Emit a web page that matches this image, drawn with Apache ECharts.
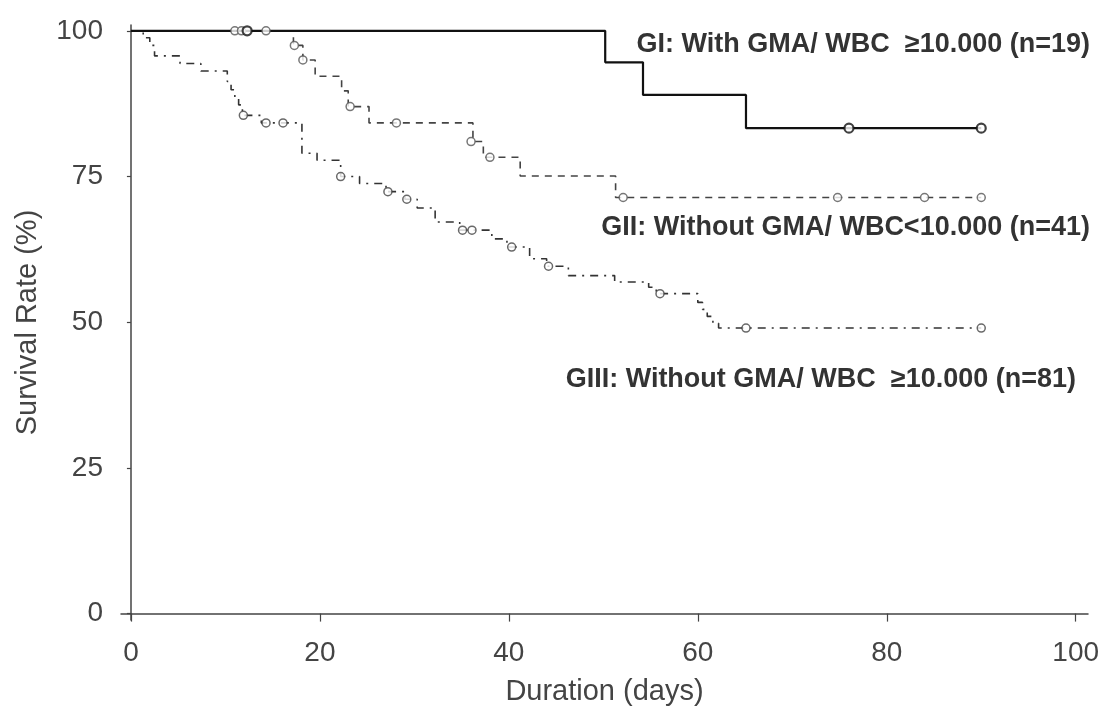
<!DOCTYPE html>
<html>
<head>
<meta charset="utf-8">
<script src="https://cdn.jsdelivr.net/npm/echarts@6/dist/echarts.min.js"></script>
<style>
html,body{margin:0;padding:0;background:#fff;}
#chart{width:1106px;height:714px;}
</style>
</head>
<body>
<div id="chart"></div>
<script>
// ---- Data ----
const xTicks = [0, 20, 40, 60, 80, 100];
const yTicks = [0, 25, 50, 75, 100];

const gITimes = [0, 50.2, 54.2, 65.1, 90.0];
const gISurv  = [100, 94.6, 89.0, 83.3, 83.3];
const gICensorTimes = [12.3, 76.0, 90.0];
const gICensorSurv  = [100, 83.3, 83.3];

const gIITimes = [0, 17.2, 18.2, 19.5, 22.3, 23.0, 25.2, 36.2, 37.3, 41.2, 51.3, 90.0];
const gIISurv  = [100, 97.5, 95.0, 92.2, 89.7, 87.0, 84.2, 81.0, 78.3, 75.1, 71.4, 71.4];
const gIICensorTimes = [11.0, 11.7, 14.3, 17.3, 18.2, 23.2, 28.1, 36.0, 38.0, 52.1, 74.8, 84.0, 90.0];
const gIICensorSurv  = [100, 100, 100, 97.5, 95.0, 87.0, 84.2, 81.0, 78.3, 71.4, 71.4, 71.4, 71.4];

const gIIITimes = [0, 1.3, 2.0, 2.5, 5.2, 7.4, 10.2, 10.6, 11.0, 11.4, 11.8, 13.8, 18.1, 19.7, 22.2, 24.2, 27.0, 29.0, 30.3, 32.2, 34.8, 38.2, 39.8, 42.2, 44.0, 46.3, 51.2, 54.8, 55.6, 60.0, 60.5, 61.0, 61.6, 62.2, 90.0];
const gIIISurv  = [100, 98.8, 97.5, 95.7, 94.4, 93.1, 91.3, 89.9, 88.6, 87.3, 85.5, 84.2, 79.0, 77.8, 75.0, 73.8, 72.4, 71.1, 69.6, 67.2, 65.8, 64.3, 62.9, 60.9, 59.6, 58.0, 56.9, 56.0, 54.9, 53.4, 52.2, 51.0, 49.8, 49.0, 49.0];
const gIIICensorTimes = [11.9, 14.3, 16.1, 22.2, 27.2, 29.2, 35.1, 36.1, 40.3, 44.2, 56.0, 65.1, 90.0];
const gIIICensorSurv  = [85.5, 84.2, 84.2, 75.0, 72.4, 71.1, 65.8, 65.8, 62.9, 59.6, 54.9, 49.0, 49.0];

const labelGI   = 'GI: With GMA/ WBC  \u226510.000 (n=19)';
const labelGII  = 'GII: Without GMA/ WBC<10.000 (n=41)';
const labelGIII = 'GIII: Without GMA/ WBC  \u226510.000 (n=81)';
const xName = 'Duration (days)';
const yName = 'Survival Rate (%)';

function zip(a, b) { return a.map((v, i) => [v, b[i]]); }

const chart = echarts.init(document.getElementById('chart'), null, {renderer: 'canvas'});
const axisColor = '#444';
const txtFont = 'Liberation Sans, Arial, sans-serif';

chart.setOption({
  backgroundColor: '#fff',
  animation: false,
  grid: {left: 121, right: 18, top: 25, bottom: 94, containLabel: false, outerBoundsMode: 'none'},
  xAxis: {
    type: 'value', min: -1.05, max: 101.3,
    name: xName, nameLocation: 'middle', nameGap: 57, nameMoveOverlap: false,
    nameTextStyle: {fontFamily: txtFont, fontSize: 29, color: '#444'},
    axisLine: {show: true, lineStyle: {color: axisColor, width: 1.5}},
    axisTick: {show: true, customValues: xTicks, length: 8, inside: false, lineStyle: {color: axisColor, width: 1.2}},
    axisLabel: {customValues: xTicks, margin: 19, fontFamily: txtFont, fontSize: 28, color: '#444'},
    splitLine: {show: false}
  },
  yAxis: {
    type: 'value', min: -1.1, max: 101,
    name: yName, nameLocation: 'middle', nameGap: 79, nameMoveOverlap: false,
    nameTextStyle: {fontFamily: txtFont, fontSize: 29, color: '#444'},
    axisLine: {show: true, lineStyle: {color: axisColor, width: 1.5}},
    axisTick: {show: true, customValues: yTicks, length: 4, lineStyle: {color: axisColor, width: 1.2}},
    axisLabel: {customValues: yTicks, margin: 18, fontFamily: txtFont, fontSize: 28, color: '#444'},
    splitLine: {show: false}
  },
  series: [
    {type: 'line', step: 'end', data: zip(gIIITimes, gIIISurv), showSymbol: false, symbol: 'none',
     lineStyle: {color: '#333', width: 1.6, type: [8, 6, 2, 6]}, z: 2},
    {type: 'line', step: 'end', data: zip(gIITimes, gIISurv), showSymbol: false, symbol: 'none',
     lineStyle: {color: '#444', width: 1.6, type: [7, 6]}, z: 3},
    {type: 'line', step: 'end', data: zip(gITimes, gISurv), showSymbol: false, symbol: 'none',
     lineStyle: {color: '#111', width: 2.2, type: 'solid'}, z: 4},
    {type: 'scatter', data: zip(gIIICensorTimes, gIIICensorSurv), symbol: 'circle', symbolSize: 8,
     itemStyle: {color: '#fff', borderColor: '#444', borderWidth: 1.5}, z: 5},
    {type: 'scatter', data: zip(gIICensorTimes, gIICensorSurv), symbol: 'circle', symbolSize: 8,
     itemStyle: {color: '#fff', borderColor: '#555', borderWidth: 1.5}, z: 6},
    {type: 'scatter', data: zip(gICensorTimes, gICensorSurv), symbol: 'circle', symbolSize: 9,
     itemStyle: {color: '#fff', borderColor: '#111', borderWidth: 2.2}, z: 7}
  ],
  graphic: [
    {type: 'text', x: 1090, y: 45, style: {text: labelGI, fill: '#333', fontFamily: txtFont, fontSize: 27, fontWeight: 'bold', align: 'right', verticalAlign: 'middle'}},
    {type: 'text', x: 1090, y: 228, style: {text: labelGII, fill: '#333', fontFamily: txtFont, fontSize: 27, fontWeight: 'bold', align: 'right', verticalAlign: 'middle'}},
    {type: 'text', x: 1076, y: 380, style: {text: labelGIII, fill: '#333', fontFamily: txtFont, fontSize: 27, fontWeight: 'bold', align: 'right', verticalAlign: 'middle'}}
  ]
});
</script>
</body>
</html>
